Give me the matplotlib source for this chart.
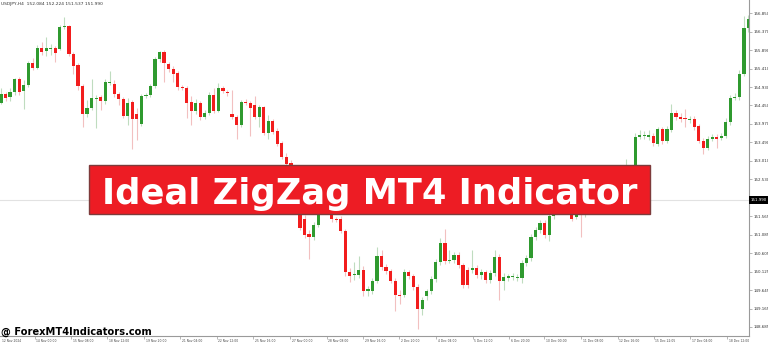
import numpy as np
import matplotlib.pyplot as plt
from matplotlib.patches import Rectangle
from matplotlib.transforms import blended_transform_factory

# USDJPY H4 candles (open, high, low, close)
opens = [154.52, 154.75, 154.67, 154.80, 155.14, 154.83, 154.98, 155.56, 155.43, 155.95,
         155.87, 155.92, 155.95, 155.92, 156.49, 156.52, 155.79, 155.50, 154.96, 154.23,
         154.38, 154.62, 154.67, 154.57, 155.04, 155.01, 154.75, 154.62, 154.18, 154.54,
         154.23, 153.97, 154.70, 154.72, 154.96, 155.66, 155.84, 155.53, 155.40, 155.30,
         154.93, 154.91, 154.54, 154.31, 154.52, 154.15, 154.25, 154.72, 154.31, 154.91,
         154.80, 154.23, 154.15, 153.94, 154.54, 154.52, 154.46, 154.15, 154.41, 153.73,
         154.05, 153.79, 153.47, 153.11, 152.95, 152.88, 151.99, 151.50, 151.10, 151.03,
         151.34, 151.73, 151.94, 151.68, 151.50, 151.50, 151.18, 150.12, 150.04, 150.04,
         150.17, 149.62, 149.62, 149.88, 150.53, 150.25, 150.14, 149.88, 149.52, 149.52,
         150.12, 150.01, 149.73, 149.15, 149.49, 149.62, 149.93, 150.38, 150.87, 150.40,
         150.43, 150.56, 150.30, 150.17, 150.17, 150.22, 150.04, 150.12, 149.91, 150.09,
         150.51, 149.88, 149.96, 149.99, 149.96, 149.96, 150.35, 150.48, 151.03, 151.21,
         151.39, 151.08, 151.57, 151.78, 151.99, 151.83, 152.12, 151.55, 151.78, 151.60,
         152.04, 152.25, 152.09, 152.38, 152.51, 152.25, 152.56, 152.72, 152.51, 152.77,
         152.61, 153.63, 153.66, 153.63, 153.66, 153.45, 153.84, 153.53, 153.81, 154.25,
         154.15, 154.12, 154.07, 154.10, 153.92, 153.53, 153.34, 153.58, 153.63, 153.60,
         153.66, 154.02, 154.65, 154.67, 155.27, 156.47]
highs = [154.91, 154.80, 154.91, 155.17, 155.19, 155.11, 155.61, 155.69, 156.02, 156.10,
         156.23, 156.05, 156.00, 156.55, 156.75, 156.55, 155.84, 155.56, 155.01, 154.59,
         155.14, 154.72, 154.72, 155.14, 155.35, 155.11, 154.80, 154.67, 154.65, 154.59,
         154.38, 154.75, 154.78, 155.01, 155.71, 155.87, 155.89, 155.58, 155.48, 155.35,
         154.98, 154.96, 154.70, 154.62, 154.57, 154.33, 154.80, 154.91, 155.04, 154.96,
         154.85, 154.85, 154.20, 154.59, 154.62, 154.57, 154.70, 154.46, 154.44, 154.20,
         154.10, 153.86, 153.53, 153.21, 153.03, 152.90, 152.04, 151.60, 151.21, 151.42,
         151.83, 152.04, 152.04, 151.73, 151.55, 151.57, 151.24, 150.22, 150.38, 150.53,
         150.27, 149.75, 149.96, 150.77, 150.69, 150.33, 150.19, 149.96, 149.65, 150.19,
         150.17, 150.06, 149.80, 149.47, 149.67, 150.01, 150.45, 151.00, 151.24, 150.69,
         150.64, 150.64, 150.35, 150.25, 150.69, 150.30, 150.19, 150.17, 150.17, 150.69,
         150.58, 150.09, 150.06, 150.09, 150.06, 150.43, 150.56, 151.10, 151.29, 151.47,
         151.47, 151.65, 151.89, 152.09, 152.04, 152.20, 152.20, 151.86, 151.89, 152.12,
         152.33, 152.33, 152.46, 152.59, 152.59, 152.64, 152.80, 152.77, 153.06, 152.85,
         153.73, 153.81, 153.79, 153.81, 153.73, 153.89, 153.89, 153.92, 154.49, 154.33,
         154.25, 154.36, 154.18, 154.18, 153.97, 153.60, 153.66, 153.71, 153.71, 153.73,
         154.12, 154.72, 154.78, 155.37, 156.78, 156.81]
lows = [154.49, 154.57, 154.57, 154.72, 154.72, 154.36, 154.93, 155.37, 155.40, 155.76,
        155.74, 155.76, 155.58, 155.89, 156.44, 155.74, 155.27, 154.85, 153.89, 154.15,
        154.33, 153.86, 154.33, 154.49, 154.98, 154.67, 154.46, 154.12, 153.94, 153.32,
        153.55, 153.92, 154.65, 154.67, 154.91, 155.58, 155.06, 155.32, 155.06, 154.85,
        154.85, 154.12, 153.94, 154.23, 154.07, 154.10, 154.20, 154.25, 154.28, 154.78,
        154.70, 154.10, 153.58, 153.89, 154.46, 153.66, 154.10, 153.89, 153.68, 153.58,
        153.71, 153.40, 153.06, 152.88, 152.64, 151.86, 151.21, 151.00, 150.45, 150.95,
        151.29, 151.68, 151.63, 151.42, 151.42, 151.13, 150.01, 149.86, 149.91, 149.96,
        149.49, 149.49, 149.54, 149.83, 150.17, 150.06, 149.83, 149.10, 149.28, 149.47,
        149.93, 149.65, 148.63, 149.00, 149.39, 149.54, 149.86, 150.30, 150.33, 150.35,
        150.35, 150.22, 149.70, 149.70, 150.09, 149.96, 149.93, 149.83, 149.83, 150.01,
        149.39, 149.65, 149.88, 149.91, 149.88, 149.83, 150.27, 150.40, 150.95, 151.13,
        151.00, 150.92, 151.50, 151.73, 151.68, 151.76, 151.44, 151.50, 151.03, 151.55,
        151.99, 152.02, 152.04, 152.30, 152.17, 152.20, 152.51, 152.43, 152.46, 152.56,
        152.56, 153.58, 153.58, 153.55, 153.40, 153.40, 153.45, 153.47, 153.76, 154.07,
        154.02, 153.89, 153.99, 153.81, 153.47, 153.19, 153.29, 153.53, 153.34, 153.55,
        153.60, 153.94, 154.59, 154.59, 155.22, 156.36]
closes = [154.75, 154.65, 154.80, 155.14, 154.80, 154.98, 155.56, 155.43, 155.95, 155.84,
          155.95, 155.95, 155.82, 156.49, 156.52, 155.79, 155.48, 154.96, 154.23, 154.38,
          154.65, 154.65, 154.57, 155.06, 155.06, 154.75, 154.62, 154.18, 154.52, 154.10,
          154.10, 154.70, 154.72, 154.96, 155.66, 155.84, 155.56, 155.40, 155.27, 154.93,
          154.91, 154.52, 154.31, 154.52, 154.15, 154.25, 154.72, 154.31, 154.91, 154.83,
          154.78, 154.15, 153.94, 154.54, 154.52, 154.38, 154.15, 154.41, 153.73, 154.05,
          153.76, 153.45, 153.11, 152.93, 152.88, 151.99, 151.26, 151.08, 151.03, 151.34,
          151.73, 151.94, 151.68, 151.50, 151.47, 151.18, 150.12, 150.01, 150.06, 150.17,
          149.62, 149.67, 149.88, 150.53, 150.25, 150.14, 149.88, 149.52, 149.49, 150.12,
          150.01, 149.73, 149.15, 149.39, 149.62, 149.93, 150.38, 150.87, 150.40, 150.43,
          150.56, 150.30, 149.78, 149.78, 150.22, 150.04, 150.12, 149.91, 150.09, 150.51,
          149.88, 149.99, 150.01, 150.01, 149.99, 150.35, 150.48, 151.03, 151.21, 151.39,
          151.08, 151.57, 151.78, 151.99, 151.83, 152.12, 151.50, 151.78, 151.60, 152.04,
          152.25, 152.09, 152.38, 152.51, 152.25, 152.56, 152.72, 152.51, 152.77, 152.61,
          153.63, 153.68, 153.68, 153.68, 153.47, 153.84, 153.53, 153.84, 154.25, 154.15,
          154.10, 154.10, 154.10, 153.89, 153.53, 153.34, 153.58, 153.63, 153.58, 153.66,
          154.02, 154.65, 154.67, 155.27, 156.47, 156.70]

price_ticks = [156.850, 156.370, 155.890, 155.410, 154.930, 154.450, 153.970, 153.490,
               153.010, 152.530, 151.565, 151.085, 150.605, 150.125, 149.645, 149.165, 148.685]
last_price = 151.990

date_labels = ["12 Nov 2024", "14 Nov 00:00", "15 Nov 08:00", "18 Nov 12:00", "19 Nov 20:00",
               "21 Nov 04:00", "22 Nov 12:00", "25 Nov 16:00", "27 Nov 00:00", "28 Nov 08:00",
               "29 Nov 16:00", "2 Dec 20:00", "4 Dec 04:00", "5 Dec 12:00", "6 Dec 20:00",
               "10 Dec 00:00", "11 Dec 08:00", "12 Dec 16:00", "15 Dec 22:05", "17 Dec 04:00",
               "18 Dec 12:00"]
date_pos = [-0.2, 7.44, 15.45, 23.47, 31.57, 39.51, 47.62, 55.7, 63.86, 71.9, 79.98,
            87.93, 96.03, 104.13, 112.21, 119.93, 128.04, 136.14, 144.08, 152.16, 160.26]

header = "USDJPY,H4  152.084 152.224 151.537 151.990"
banner_text = "Ideal ZigZag MT4 Indicator"
watermark = "@ ForexMT4Indicators.com"

o = np.array(opens)
h = np.array(highs)
l = np.array(lows)
c = np.array(closes)
idx = np.arange(len(o))
up = c >= o

green = "#2f9a2f"
red = "#f21d1d"

fig = plt.figure(figsize=(7.68, 3.44), dpi=100)
ax = fig.add_axes([0, 8 / 344, 749 / 768, 336 / 344])
ax.set_xlim(-0.22, 165.12)
ax.set_ylim(148.45, 157.196)

# current price line
ax.axhline(last_price, color="#e2e2e2", lw=0.8, zorder=0)

wick_cols = np.where(up, "#bfdcbf", "#f2c0c0")
ax.vlines(idx, l, h, colors=wick_cols, lw=0.8, zorder=1)
body = np.maximum(np.abs(c - o), 0.025)
ax.bar(idx, body, bottom=np.minimum(o, c), width=0.7,
       color=np.where(up, green, red), linewidth=0, zorder=2)

for s in ["left", "top"]:
    ax.spines[s].set_visible(False)
for s in ["right", "bottom"]:
    ax.spines[s].set_color("#9a9a9a")
    ax.spines[s].set_linewidth(0.8)

ax.yaxis.tick_right()
ax.set_yticks(price_ticks)
ax.set_yticklabels([f"{v:.3f}" for v in price_ticks])
ax.tick_params(axis="y", labelsize=2.9, length=2, width=0.5, color="#9a9a9a",
               pad=1, labelcolor="#333333")

ax.set_xticks(date_pos[1:])
ax.set_xticklabels([])
ax.tick_params(axis="x", length=2.5, width=0.5, color="#9a9a9a")
trans = blended_transform_factory(ax.transData, fig.transFigure)
for p, lab in zip(date_pos, date_labels):
    ax.text(p + 0.35, 3 / 344, lab, transform=trans, fontsize=2.2, color="#444444",
            ha="left", va="center", clip_on=False)

# price box on the axis
fig.patches.append(Rectangle((749 / 768, (344 - 204) / 344), 19 / 768, 8 / 344,
                             transform=fig.transFigure, facecolor="black", edgecolor="none"))
fig.text(758.5 / 768, (344 - 200) / 344, f"{last_price:.3f}", color="white", fontsize=2.9,
         ha="center", va="center")

fig.text(1 / 768, (344 - 4) / 344, header, fontsize=3.2, color="#333333", ha="left", va="center")

# red title banner
fig.patches.append(Rectangle((89 / 768, (344 - 214) / 344), 561 / 768, 49 / 344,
                             transform=fig.transFigure, facecolor="#ed1c24",
                             edgecolor="#7d3b3b", linewidth=1, zorder=5))
fig.text(370 / 768, (344 - 203.7) / 344, banner_text, color="white", fontsize=25.4,
         fontweight="bold", family="DejaVu Sans", ha="center", va="baseline", zorder=6)

fig.text(1 / 768, (344 - 334.7) / 344, watermark, color="black", fontsize=7.1,
         fontweight="bold", ha="left", va="baseline")

fig.savefig("out.png", dpi=100)
